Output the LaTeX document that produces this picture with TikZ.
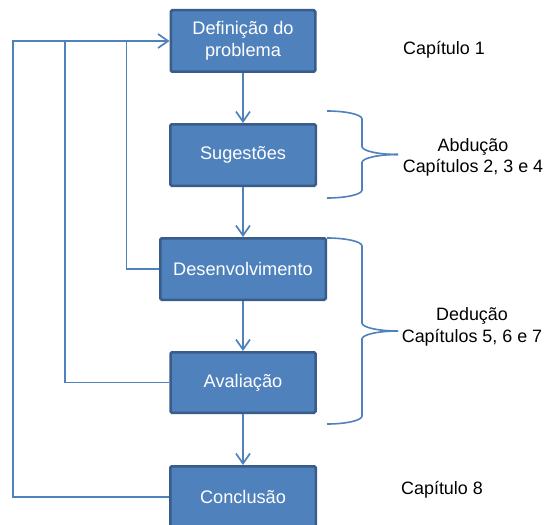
\documentclass[tikz,border=0pt]{standalone}
\usepackage{fontspec}
\setmainfont{Liberation Sans}
\usetikzlibrary{arrows.meta}
\definecolor{boxfill}{HTML}{4F81BD}
\definecolor{boxedge}{HTML}{385D8A}
\definecolor{linkblue}{HTML}{4F81BD}
\tikzset{
  stagebox/.style={rectangle, rounded corners=1.5pt, fill=boxfill, draw=boxedge,
    line width=2.5pt, text=white, align=center, minimum height=61.5pt,
    font=\fontsize{18.2}{22}\selectfont},
  link/.style={draw=linkblue, line width=1.7pt},
  linkarrow/.style={link, -{Straight Barb[length=10pt,width=14pt,line width=1.7pt]}},
  chaplabel/.style={text=black, align=center, font=\fontsize{17.9}{21.5}\selectfont},
  bracket/.style={draw=linkblue, line width=1.6pt}
}
% right curly brace: top y, middle y, bottom y
\newcommand\chapbrace[3]{%
  \draw[bracket] (327,#1) .. controls (346.3,#1) and (362,#1+3.6) .. (362,#1+8)
    -- (362,#2-8) .. controls (362,#2-3.6) and (378.1,#2) .. (398,#2);
  \draw[bracket] (398,#2) .. controls (378.1,#2) and (362,#2+3.6) .. (362,#2+8)
    -- (362,#3-8) .. controls (362,#3-3.6) and (346.3,#3) .. (327,#3);
}
\begin{document}
\begin{tikzpicture}[x=1pt,y=-1pt]
  \clip (0,0) rectangle (545,524);
  \fill[white] (0,0) rectangle (545,524);

  % stages of the method
  \node[stagebox, minimum width=144.5pt] (b1) at (243,41) {Definição do\\problema};
  \node[stagebox, minimum width=145.5pt] (b2) at (243,155) {Sugestões};
  \node[stagebox, minimum width=165.5pt] (b3) at (243,269) {Desenvolvimento};
  \node[stagebox, minimum width=145pt, minimum height=60.5pt] (b4) at (243,382.5) {Avaliação};
  \node[stagebox, minimum width=145.5pt] (b5) at (243,497) {Conclusão};

  % forward flow
  \draw[linkarrow] (b1) -- (b2);
  \draw[linkarrow] (b2) -- (b3);
  \draw[linkarrow] (b3) -- (b4);
  \draw[linkarrow] (b4) -- (b5);

  % feedback loops back to the problem definition
  \coordinate (r1) at (13,41);
  \coordinate (r2) at (65,41);
  \coordinate (r3) at (126.5,41);
  \draw[linkarrow] (b5.west) -| (r1) -- (b1.west);
  \draw[link] (b4.west) -| (r2);
  \draw[link] (b3.west) -| (r3);

  % braces grouping the chapters
  \chapbrace{111}{154.5}{198}
  \chapbrace{238}{331}{424}

  % chapter labels
  \node[chaplabel] (c1) at (444,50) {Capítulo 1};
  \node[chaplabel] (c234) at (473,157.5) {Abdução\\Capítulos 2, 3 e 4};
  \node[chaplabel] (c567) at (472,327) {Dedução\\Capítulos 5, 6 e 7};
  \node[chaplabel] (c8) at (442,490) {Capítulo 8};
\end{tikzpicture}
\end{document}
